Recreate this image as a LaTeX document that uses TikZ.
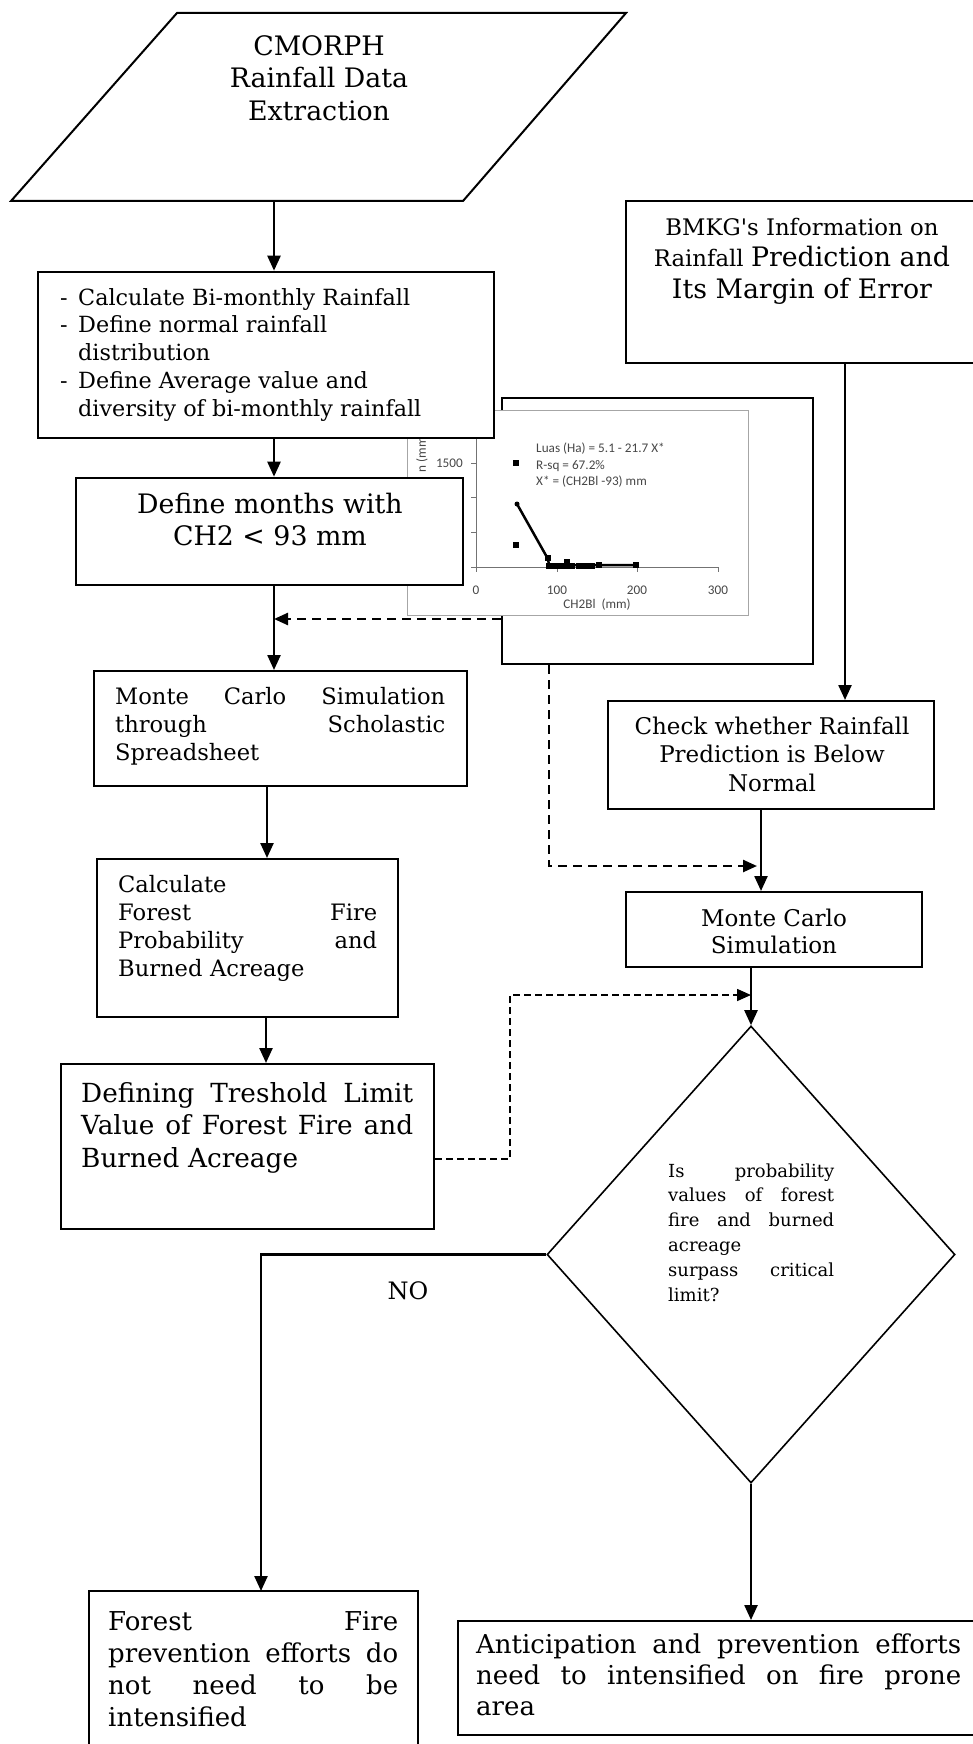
\documentclass[tikz,border=0pt]{standalone}
\usepackage{fontspec}
\setmainfont{DejaVu Serif}
\newfontfamily\chartfont{Carlito}
\usetikzlibrary{arrows.meta,shapes.geometric}
\begin{document}
\begin{tikzpicture}[x=1pt,y=-1pt,
  box/.style={draw,line width=2pt,fill=white,inner sep=0pt},
  arr/.style={line width=2.4pt,-{Triangle[length=15pt,width=13pt]}},
  darr/.style={line width=2.4pt,dash pattern=on 9pt off 6pt,-{Triangle[length=14pt,width=12pt]}},
  tx/.style={inner sep=0pt},
  bigf/.style={font=\fontsize{26.8}{32.5}\selectfont},
  normf/.style={font=\fontsize{22.6}{28}\selectfont},
  smallf/.style={font=\fontsize{18}{24.8}\selectfont},
  cht/.style={font=\chartfont\fontsize{13.2}{16.5}\selectfont,text=black!72,inner sep=0pt},
]
\useasboundingbox (0,0) rectangle (973,1744);
\clip (0,0) rectangle (973,1744);
\fill[white] (0,0) rectangle (973,1744);

% ---------- parallelogram ----------
\coordinate (pTL) at (177,13);
\coordinate (pTR) at (626,13);
\coordinate (pBR) at (463,201);
\coordinate (pBL) at (11,201);
\coordinate (parB) at (274,201);
\draw[line width=2pt,line join=miter] (pTL) -- (pTR) -- (pBR) -- (pBL) -- cycle;
\node[tx,bigf,align=center,anchor=north] (partext) at (319,32.25)
  {\strut CMORPH\\ Rainfall Data\\ Extraction};

% ---------- chart frame and chart ----------
\node[box,line width=2.8pt,minimum width=311pt,minimum height=266pt] (fr) at (657.5,531) {};
\node[draw=black!35,fill=white,line width=1pt,inner sep=0pt,minimum width=341pt,minimum height=205pt] (chart) at (577.5,512.5) {};
\draw[black!55,line width=1pt] (476,420) -- (476,567) -- (718,567);
\foreach \yy in {463,497,532,567} \draw[black!55,line width=1pt] (471,\yy) -- (476,\yy);
\foreach \xx in {476,557,637,718} \draw[black!55,line width=1pt] (\xx,567) -- (\xx,572);
\node[cht,anchor=base] (t0) at (476,594) {0};
\node[cht,anchor=base] (t100) at (557,594) {100};
\node[cht,anchor=base] (t200) at (637,594) {200};
\node[cht,anchor=base] (t300) at (718,594) {300};
\node[cht,anchor=base] (xlab) at (597,608) {CH2Bl\ \ (mm)};
\node[cht,anchor=east] (y1500) at (463,463) {1500};
\node[cht,rotate=90,anchor=east] (ylab) at (422,433) {n (mm)};
\node[cht,anchor=north west,align=left] (eq) at (536,443)
  {Luas (Ha) = 5.1 - 21.7 X*\\ R-sq = 67.2\%\\ X* = (CH2Bl -93) mm};
\draw[line width=2.5pt] (517,504) -- (548,559) -- (549,565) -- (636,565);
\fill (517,504) circle (2.5pt);
\foreach \px/\py in {516/463,516/545,548/558,549/566,554/566,558/566,562/566,567/562,567/566,572/566,579/566,584/566,588/566,592/566,599/565,636/565}
  \fill (\px-3.2,\py-3.2) rectangle (\px+3.2,\py+3.2);

% ---------- left column ----------
\node[box,line width=2.6pt,minimum width=456pt,minimum height=166pt] (b1) at (266,355) {};
\node[tx,font=\fontsize{22.3}{27.75}\selectfont,align=left,anchor=north west] (b1text) at (60,285.6)
  {\strut\makebox[18pt][l]{-}Calculate Bi-monthly Rainfall\\
   \makebox[18pt][l]{-}Define normal rainfall\\
   \hspace*{18pt}distribution\\
   \makebox[18pt][l]{-}Define Average value and\\
   \hspace*{18pt}diversity of bi-monthly rainfall};

\node[box,line width=2.6pt,minimum width=387pt,minimum height=107pt] (b2) at (269.5,531.5) {};
\node[tx,bigf,align=center,anchor=north] (b2text) at (270,490.25)
  {\strut Define months with\\ CH2 < 93 mm};

\node[box,minimum width=373pt,minimum height=115pt] (b3) at (280.5,728.5) {};
\node[tx,normf,align=left,text width=330pt,anchor=north west] (b3text) at (115,684.4)
  {\strut Monte\hfill Carlo\hfill Simulation\\ through\hfill Scholastic\\ Spreadsheet};

\node[box,minimum width=301pt,minimum height=158pt] (b4) at (247.5,938) {};
\node[tx,normf,align=left,text width=259pt,anchor=north west] (b4text) at (118,872.4)
  {\strut Calculate\\ Forest\hfill Fire\\ Probability\hfill and\\ Burned Acreage};

\node[box,minimum width=373pt,minimum height=165pt] (b5) at (247.5,1146.5) {};
\node[tx,font=\fontsize{26.3}{32.5}\selectfont,align=left,text width=332pt,anchor=north west] (b5text) at (81,1079.25)
  {\strut Defining\hfill Treshold\hfill Limit\\ Value\hfill of\hfill Forest\hfill Fire\hfill and\\ Burned Acreage};

% ---------- right column ----------
\node[box,minimum width=354pt,minimum height=162pt] (bmkg) at (803,282) {};
\node[tx,font=\fontsize{22.8}{31.5}\selectfont,align=center,anchor=north] (bmkgtext) at (802,213)
  {\strut BMKG\textquotesingle s Information on\\ Rainfall {\fontsize{26.8}{31.5}\selectfont Prediction and}\\ {\fontsize{26.8}{31.5}\selectfont Its Margin of Error}};

\node[box,minimum width=326pt,minimum height=108pt] (chk) at (771,755) {};
\node[tx,font=\fontsize{23}{28.5}\selectfont,align=center,anchor=north] (chktext) at (772,714)
  {\strut Check whether Rainfall\\ Prediction is Below\\ Normal};

\node[box,minimum width=296pt,minimum height=75pt] (mc) at (774,929.5) {};
\node[tx,font=\fontsize{23}{27}\selectfont,align=center,anchor=north] (mctext) at (774,907)
  {\strut Monte Carlo\\ Simulation};

\node[draw,shape=diamond,line width=1.6pt,inner sep=0pt,minimum width=408pt,minimum height=457pt] (dia) at (751,1254.5) {};
\node[tx,smallf,align=left,text width=166pt,anchor=north west] (diatext) at (668,1159.6)
  {\strut Is\hfill probability\\ values\hfill of\hfill forest\\ fire\hfill and\hfill burned\\ acreage\\ surpass\hfill critical\\ limit?};

\node[tx,font=\fontsize{24}{28}\selectfont,anchor=base] (no) at (408,1299) {NO};

\node[box,minimum width=329pt,minimum height=169pt] (forest) at (253.5,1675.5) {};
\node[tx,font=\fontsize{26}{32}\selectfont,align=left,text width=290pt,anchor=north west] (foresttext) at (108,1607.6)
  {\strut Forest\hfill Fire\\ prevention\hfill efforts\hfill do\\ not\hfill need\hfill to\hfill be\\ intensified};

\node[box,minimum width=522pt,minimum height=114pt] (ant) at (719,1678) {};
\node[tx,font=\fontsize{26}{31}\selectfont,align=left,text width=485pt,anchor=north west] (anttext) at (476,1631.7)
  {\strut Anticipation\hfill and\hfill prevention\hfill efforts\\ need\hfill to\hfill intensified\hfill on\hfill fire\hfill prone\\ area};

% ---------- connectors ----------
\coordinate (c34) at (267,0);
\coordinate (c45) at (266,0);
\coordinate (cb) at (845,0);
\coordinate (cm) at (761,0);
\coordinate (cno) at (261,1591);
\coordinate (dj) at (274,619);
\coordinate (d2) at (549,866);
\coordinate (d3a) at (510,1159);
\coordinate (d3b) at (510,995);

\draw[arr] (parB) -- (parB |- b1.north);
\draw[arr] (b1.south -| parB) -- (b2.north -| parB);
\draw[arr] (b2.south -| parB) -- (b3.north -| parB);
\draw[arr] (b3.south -| c34) -- (b4.north -| c34);
\draw[arr] (b4.south -| c45) -- (b5.north -| c45);
\draw[arr] (bmkg.south -| cb) -- (chk.north -| cb);
\draw[arr] (chk.south -| cm) -- (mc.north -| cm);
\draw[arr] (mc.south -| dia.north) -- (dia.north);
\draw[arr] (dia.west) -| (cno);
\draw[arr] (dia.south) -- (ant.north -| dia.south);

\draw[darr] (fr.west |- dj) -- (dj);
\draw[darr,shorten >=4pt] (fr.south -| d2) -- (d2) -- (d2 -| cm);
\draw[line width=1.6pt,dash pattern=on 7pt off 4pt,-{Triangle[length=14pt,width=12pt]}]
  (b5.east |- d3a) -- (d3a) -- (d3b) -- (d3b -| dia.north);
\end{tikzpicture}
\end{document}
